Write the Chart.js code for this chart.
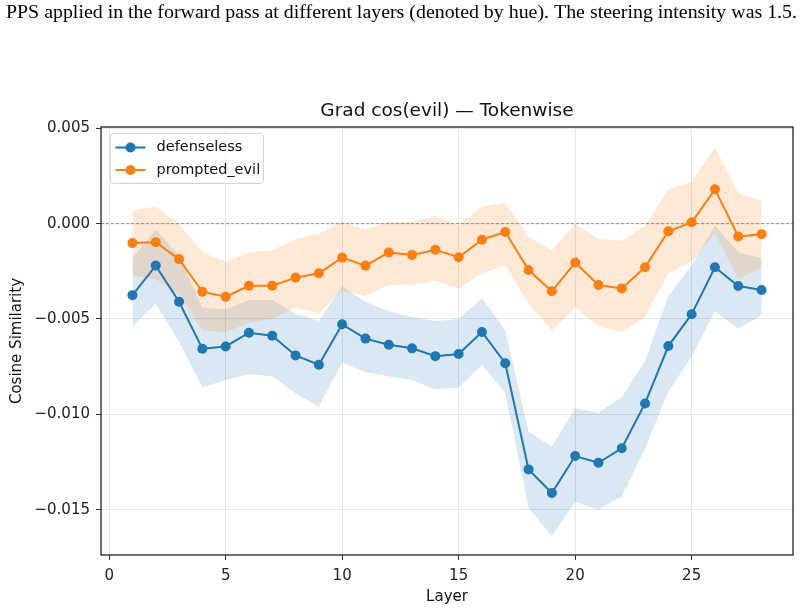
<!DOCTYPE html>
<html>
<head>
<meta charset="utf-8">
<script src="https://cdn.jsdelivr.net/npm/chart.js@4.4.1/dist/chart.umd.min.js"></script>
<style>
  body { margin: 0; background: #fff; }
  #wrap { width: 803px; height: 611px; position: relative; }
</style>
</head>
<body>
<div id="wrap"><canvas id="chart" width="803" height="611"></canvas></div>
<script>
// values
const layers = [1, 2, 3, 4, 5, 6, 7, 8, 9, 10, 11, 12, 13, 14, 15, 16, 17, 18, 19, 20, 21, 22, 23, 24, 25, 26, 27, 28];

const defenselessMean = [-0.00375, -0.0022, -0.0041, -0.00656, -0.00644, -0.00572, -0.00588, -0.00691, -0.0074, -0.00528,
  -0.00603, -0.00635, -0.00654, -0.00695, -0.00684, -0.00568, -0.00732, -0.01289, -0.01413, -0.01219,
  -0.01254, -0.01178, -0.00943, -0.00642, -0.00475, -0.00229, -0.00327, -0.00348];
const defenselessUpper = [-0.0018, -0.0003, -0.0017, -0.0044, -0.0045, -0.0040, -0.0040, -0.0047, -0.0051, -0.0033,
  -0.0041, -0.0046, -0.0049, -0.0051, -0.0050, -0.0039, -0.0056, -0.0109, -0.0117, -0.0097,
  -0.0099, -0.0091, -0.0072, -0.0038, -0.0022, -0.0001, -0.0015, -0.0018];
const defenselessLower = [-0.0054, -0.0042, -0.0062, -0.0086, -0.0082, -0.0079, -0.0080, -0.0089, -0.0096, -0.0073,
  -0.0078, -0.0080, -0.0082, -0.0087, -0.0086, -0.0074, -0.0089, -0.0149, -0.0164, -0.0146,
  -0.0150, -0.0143, -0.0118, -0.0088, -0.0070, -0.0046, -0.0055, -0.0048];

const evilMean = [-0.00102, -0.00097, -0.00186, -0.00357, -0.00383, -0.00326, -0.00326, -0.00283, -0.0026, -0.00178,
  -0.0022, -0.00151, -0.00164, -0.00137, -0.00176, -0.00084, -0.00044, -0.00243, -0.00355, -0.00204,
  -0.00322, -0.0034, -0.00229, -0.0004, 0.00007, 0.0018, -0.00067, -0.00055];
const evilUpper = [0.0007, 0.0009, 0.0000, -0.0015, -0.0020, -0.0015, -0.0014, -0.0008, -0.0005, 0.0001,
  -0.0003, 0.0001, 0.0001, 0.0004, -0.0001, 0.0009, 0.0011, -0.0007, -0.0014, 0.0000,
  -0.0008, -0.0009, -0.0001, 0.0018, 0.0022, 0.0040, 0.0016, 0.0012];
const evilLower = [-0.0027, -0.0029, -0.0037, -0.0056, -0.0057, -0.0052, -0.0050, -0.0044, -0.0047, -0.0035,
  -0.0038, -0.0032, -0.0032, -0.0030, -0.0034, -0.0026, -0.0022, -0.0042, -0.0056, -0.0044,
  -0.0054, -0.0057, -0.0049, -0.0026, -0.0020, -0.0005, -0.0029, -0.0023];

const xTicks = [0, 5, 10, 15, 20, 25];
const yTicks = [0.005, 0, -0.005, -0.010, -0.015];

const seriesNames = ['defenseless', 'prompted_evil'];
const titleText = 'Grad cos(evil) \u2014 Tokenwise';
const captionText = 'PPS applied in the forward pass at different layers (denoted by hue). The steering intensity was 1.5.';

const BLUE = '#1f77b4';
const ORANGE = '#ff7f0e';
const FONT = '"DejaVu Sans", sans-serif';

function pts(vals) {
  return layers.map(function (l, i) { return { x: l, y: vals[i] }; });
}

function band(vals, color, fill) {
  return {
    label: '_band', data: pts(vals), borderWidth: 0, pointRadius: 0,
    backgroundColor: color, fill: fill, tension: 0
  };
}

// extra drawing: caption, title, frame, zero line, legend
const decor = {
  id: 'decor',
  beforeDatasetsDraw(chart) {
    const ctx = chart.ctx, a = chart.chartArea;
    const y0 = chart.scales.y.getPixelForValue(0);
    ctx.save();
    ctx.strokeStyle = '#777';
    ctx.lineWidth = 0.8;
    ctx.setLineDash([3, 2]);
    ctx.beginPath();
    ctx.moveTo(a.left, y0);
    ctx.lineTo(a.right, y0);
    ctx.stroke();
    ctx.restore();
  },
  afterDraw(chart) {
    const ctx = chart.ctx, a = chart.chartArea;
    ctx.save();

    // caption line above the figure
    ctx.font = '19px "Liberation Serif", "Times New Roman", serif';
    ctx.fillStyle = '#000';
    ctx.textBaseline = 'alphabetic';
    ctx.textAlign = 'left';
    const w = ctx.measureText(captionText).width;
    ctx.save();
    ctx.translate(6, 18);
    ctx.scale(791 / w, 1);
    ctx.fillText(captionText, 0, 0);
    ctx.restore();

    // title
    ctx.font = '18.5px ' + FONT;
    ctx.fillStyle = '#111';
    ctx.textAlign = 'center';
    ctx.textBaseline = 'middle';
    ctx.fillText(titleText, (a.left + a.right) / 2, 111);

    // frame
    ctx.strokeStyle = '#222';
    ctx.lineWidth = 1.3;
    ctx.strokeRect(a.left, a.top, a.right - a.left, a.bottom - a.top);

    // legend
    const lx = a.left + 9.5, ly = a.top + 6.5;
    ctx.beginPath();
    ctx.roundRect(lx, ly, 153, 50, 3);
    ctx.fillStyle = 'rgba(255,255,255,0.8)';
    ctx.fill();
    ctx.strokeStyle = '#d4d4d4';
    ctx.lineWidth = 1;
    ctx.stroke();
    const entries = [[seriesNames[0], BLUE], [seriesNames[1], ORANGE]];
    ctx.font = '14.5px ' + FONT;
    ctx.textAlign = 'left';
    entries.forEach(function (e, i) {
      const yy = ly + 14 + i * 22.5;
      ctx.strokeStyle = e[1];
      ctx.lineWidth = 2;
      ctx.beginPath();
      ctx.moveTo(lx + 5, yy);
      ctx.lineTo(lx + 35, yy);
      ctx.stroke();
      ctx.fillStyle = e[1];
      ctx.beginPath();
      ctx.arc(lx + 20, yy, 5, 0, Math.PI * 2);
      ctx.fill();
      ctx.fillStyle = '#111';
      ctx.fillText(e[0], lx + 46, yy);
    });
    ctx.restore();
  }
};

new Chart('chart', {
  type: 'line',
  data: {
    datasets: [
      { label: seriesNames[1], data: pts(evilMean), borderColor: ORANGE, backgroundColor: ORANGE,
        borderWidth: 2, pointRadius: 5, pointBorderWidth: 0, fill: false, tension: 0 },
      { label: seriesNames[0], data: pts(defenselessMean), borderColor: BLUE, backgroundColor: BLUE,
        borderWidth: 2, pointRadius: 5, pointBorderWidth: 0, fill: false, tension: 0 },
      band(evilUpper, 'rgba(255,127,14,0.17)', '+1'),
      band(evilLower, 'rgba(255,127,14,0.17)', false),
      band(defenselessUpper, 'rgba(31,119,180,0.17)', '+1'),
      band(defenselessLower, 'rgba(31,119,180,0.17)', false)
    ]
  },
  options: {
    responsive: false,
    animation: false,
    devicePixelRatio: 1,
    layout: { padding: { top: 127, right: 10, left: 0, bottom: 0 } },
    plugins: {
      legend: { display: false },
      title: { display: false },
      tooltip: { enabled: false },
      filler: { drawTime: 'beforeDatasetsDraw' }
    },
    scales: {
      x: {
        type: 'linear', min: -0.35, max: 29.35,
        afterBuildTicks: function (s) { s.ticks = xTicks.map(function (v) { return { value: v }; }); },
        afterFit: function (s) { s.height = 56; },
        grid: { color: '#e6e6e6', tickColor: '#333', tickLength: 5, lineWidth: 1 },
        border: { display: false },
        ticks: { color: '#222', padding: 7, font: { family: FONT, size: 15 }, maxRotation: 0 },
        title: { display: true, text: 'Layer', color: '#111', font: { family: FONT, size: 15 }, padding: { top: 0, bottom: 5 } }
      },
      y: {
        type: 'linear', min: -0.01738, max: 0.00507,
        afterBuildTicks: function (s) { s.ticks = yTicks.map(function (v) { return { value: v }; }); },
        afterFit: function (s) { s.width = 101; },
        grid: { color: '#e6e6e6', tickColor: '#333', tickLength: 5, lineWidth: 1 },
        border: { display: false },
        ticks: {
          color: '#222', padding: 6, font: { family: FONT, size: 15 },
          callback: function (v) { return v.toFixed(3).replace('-', '\u2212'); }
        },
        title: { display: true, text: 'Cosine Similarity', color: '#111', font: { family: FONT, size: 15 }, padding: { top: 8, bottom: 0 } }
      }
    }
  },
  plugins: [decor]
});
</script>
</body>
</html>
